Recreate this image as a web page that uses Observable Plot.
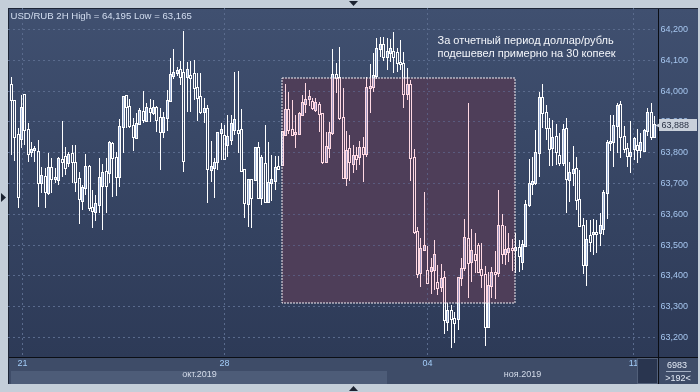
<!DOCTYPE html>
<html><head><meta charset="utf-8">
<script src="https://cdn.jsdelivr.net/npm/d3@7"></script>
<script src="https://cdn.jsdelivr.net/npm/@observablehq/plot@0.6"></script>
<style>html,body{margin:0;padding:0;background:#c4ced9;} #chart svg{display:block;}</style>
</head><body><div id="chart"></div>
<script>
// ---- data (USD/RUB, 2H candles) ----
const open = [
 64.018,63.966,63.855,63.843,63.985,63.873,63.801,63.807,63.801,63.700,
 63.719,63.668,63.749,63.713,63.710,63.775,63.784,63.765,63.794,63.765,
 63.713,63.642,63.684,63.751,63.619,63.606,63.629,63.690,63.735,63.732,
 63.827,63.781,63.719,63.882,63.982,63.947,63.885,63.846,63.892,63.931,
 63.901,63.940,63.927,63.944,63.911,63.866,63.911,63.966,64.047,64.057,
 64.067,64.057,64.044,64.047,64.054,64.008,63.979,63.931,63.940,63.742,
 63.749,63.768,63.862,63.853,63.823,63.840,63.872,63.869,63.872,63.742,
 63.632,63.710,63.710,63.814,63.651,63.762,63.638,63.700,63.706,63.752,
 63.758,63.856,63.937,63.872,63.859,63.859,63.921,63.956,63.973,63.963,
 63.937,63.953,63.924,63.768,63.814,63.862,64.051,64.041,63.911,63.716,
 63.810,63.762,63.788,63.784,63.814,63.794,64.008,64.012,64.047,64.135,
 64.148,64.109,64.122,64.125,64.122,64.090,64.086,63.989,64.018,63.781,
 63.541,63.408,63.482,63.414,63.414,63.418,63.375,63.362,63.392,63.249,
 63.284,63.258,63.258,63.392,63.424,63.518,63.443,63.466,63.495,63.418,
 63.401,63.232,63.366,63.408,63.408,63.560,63.469,63.476,63.486,63.484,
 63.489,63.443,63.495,63.629,63.697,63.700,63.797,63.976,63.927,63.875,
 63.814,63.849,63.788,63.765,63.875,63.710,63.732,63.745,63.645,63.560,
 63.434,63.528,63.534,63.538,63.538,63.551,63.667,63.830,63.833,63.885,
 63.953,63.849,63.810,63.788,63.810,63.820,63.807,63.804,63.869,63.927,
 63.849];
const high = [
 64.044,63.970,63.880,63.985,63.988,63.895,63.833,63.820,63.840,63.752,
 63.749,63.797,63.781,63.749,63.784,63.901,63.817,63.801,63.823,63.823,
 63.736,63.694,63.794,63.758,63.677,63.661,63.781,63.762,63.781,63.836,
 63.834,63.801,63.908,63.982,63.986,63.973,63.911,63.927,63.944,63.999,
 63.960,63.973,63.969,63.950,63.944,63.931,64.002,64.106,64.135,64.077,
 64.096,64.195,64.093,64.096,64.099,64.057,64.057,63.976,63.953,63.836,
 63.781,63.866,63.895,63.888,63.921,63.921,64.060,64.064,63.940,63.742,
 63.713,63.713,63.818,63.833,63.791,63.888,63.833,63.791,63.788,63.788,
 63.868,64.021,63.995,63.969,63.921,63.931,63.986,64.025,64.002,63.976,
 63.976,63.963,63.927,63.866,63.898,64.135,64.090,64.142,64.008,63.869,
 63.856,63.823,63.817,63.836,63.849,64.044,64.086,64.122,64.171,64.174,
 64.174,64.171,64.168,64.190,64.138,64.164,64.125,64.073,64.034,63.810,
 63.557,63.521,63.671,63.495,63.456,63.515,63.434,63.437,63.414,63.310,
 63.304,63.281,63.395,63.456,63.583,63.960,63.551,63.538,63.505,63.505,
 63.431,63.411,63.427,63.479,63.677,63.599,63.560,63.538,63.518,63.538,
 63.515,63.515,63.645,63.778,63.784,63.872,63.995,64.021,63.953,63.911,
 63.905,63.892,63.862,63.892,63.911,63.768,63.820,63.784,63.742,63.586,
 63.580,63.580,63.583,63.580,63.603,63.677,63.840,63.921,63.921,63.960,
 63.966,63.885,63.830,63.901,63.849,63.875,63.862,63.875,63.944,63.960,
 63.918];
const low = [
 63.790,63.770,63.619,63.815,63.825,63.768,63.784,63.768,63.622,63.668,
 63.619,63.662,63.668,63.700,63.694,63.719,63.726,63.752,63.700,63.671,
 63.567,63.612,63.661,63.609,63.555,63.577,63.603,63.547,63.603,63.700,
 63.655,63.658,63.687,63.797,63.879,63.879,63.804,63.843,63.888,63.895,
 63.898,63.898,63.921,63.866,63.742,63.846,63.869,63.963,64.038,64.047,
 64.018,63.736,63.931,63.931,63.969,63.901,63.924,63.895,63.635,63.703,
 63.651,63.742,63.775,63.775,63.784,63.823,63.856,63.797,63.736,63.586,
 63.557,63.554,63.705,63.649,63.629,63.635,63.635,63.642,63.677,63.743,
 63.755,63.852,63.859,63.852,63.814,63.856,63.918,63.927,63.950,63.937,
 63.931,63.866,63.762,63.765,63.781,63.856,63.992,63.905,63.713,63.690,
 63.706,63.732,63.742,63.758,63.703,63.784,63.927,63.995,64.038,64.109,
 64.096,64.067,64.093,64.057,64.060,64.067,63.944,63.969,63.706,63.535,
 63.392,63.362,63.478,63.372,63.340,63.353,63.336,63.346,63.210,63.219,
 63.165,63.181,63.223,63.366,63.414,63.327,63.379,63.408,63.408,63.359,
 63.171,63.228,63.327,63.323,63.395,63.437,63.434,63.443,63.414,63.408,
 63.411,63.418,63.492,63.622,63.661,63.694,63.719,63.879,63.840,63.755,
 63.755,63.758,63.755,63.755,63.603,63.638,63.690,63.612,63.556,63.405,
 63.366,63.476,63.466,63.473,63.495,63.531,63.583,63.804,63.752,63.797,
 63.781,63.797,63.752,63.732,63.775,63.765,63.781,63.801,63.853,63.840,
 63.846];
const close = [
 63.970,63.850,63.655,63.943,63.873,63.795,63.807,63.810,63.700,63.723,
 63.671,63.749,63.713,63.716,63.778,63.768,63.749,63.791,63.768,63.703,
 63.648,63.684,63.752,63.620,63.609,63.632,63.716,63.732,63.690,63.830,
 63.781,63.719,63.882,63.979,63.947,63.885,63.849,63.892,63.934,63.905,
 63.944,63.931,63.944,63.905,63.866,63.911,63.966,64.051,64.057,64.064,
 64.044,63.771,64.067,64.041,64.008,63.976,63.931,63.940,63.745,63.752,
 63.765,63.862,63.872,63.778,63.849,63.892,63.905,63.862,63.739,63.635,
 63.710,63.651,63.814,63.651,63.781,63.638,63.700,63.710,63.749,63.745,
 63.866,63.937,63.872,63.856,63.862,63.924,63.960,63.969,63.979,63.944,
 63.960,63.924,63.768,63.817,63.862,64.051,64.041,63.911,63.716,63.804,
 63.768,63.788,63.778,63.814,63.794,64.008,64.012,64.047,64.135,64.148,
 64.109,64.125,64.135,64.109,64.090,64.086,63.989,64.018,63.781,63.541,
 63.405,63.486,63.495,63.375,63.424,63.466,63.359,63.388,63.255,63.284,
 63.258,63.245,63.392,63.421,63.521,63.440,63.479,63.450,63.411,63.401,
 63.232,63.366,63.408,63.405,63.560,63.469,63.482,63.486,63.484,63.489,
 63.463,63.499,63.629,63.697,63.703,63.797,63.976,63.927,63.879,63.810,
 63.846,63.801,63.765,63.872,63.713,63.732,63.742,63.645,63.560,63.434,
 63.515,63.508,63.538,63.535,63.560,63.667,63.830,63.833,63.885,63.950,
 63.849,63.810,63.788,63.797,63.843,63.807,63.830,63.869,63.927,63.849,
 63.888];

const yTicks = [63.2, 63.3, 63.4, 63.5, 63.6, 63.7, 63.8, 63.9, 64.0, 64.1, 64.2];
const dateTickPos = [3.4, 63.07, 122.95, 183.9];
const dateTickLabels = ["21", "28", "04", "11"];
const monthLabels = ["окт.2019", "ноя.2019"];
const monthStart = [0, 111.1];
const monthEnd = [111.1, 191.19];
const noteBox = {x1: 80.2, x2: 149.0, y1: 63.31, y2: 64.04};
const noteLines = ["За отчетный период доллар/рубль", "подешевел примерно на 30 копеек"];
const noteX = 125.9;
const noteY = [64.164, 64.122];
const title = "USD/RUB 2H High = 64,195 Low = 63,165";
const barInfo = ["6983", ">192<"];

// ---- build ----
const fmt = d => d.toFixed(3).replace(".", ",");
const candles = open.map((o, i) => ({i, open: o, high: high[i], low: low[i], close: close[i]}));
const months = monthLabels.map((m, i) => ({label: m, x1: monthStart[i], x2: monthEnd[i], shade: i % 2 === 0}));
const box = [noteBox];
const last = candles[candles.length - 1];
const grid = "#5a6b8d";

const chart = Plot.plot({
  width: 700, height: 392,
  marginTop: 8, marginRight: 42, marginBottom: 35, marginLeft: 8,
  x: {domain: [-0.827, 191.19], round: true, axis: null},
  y: {domain: [63.1351, 64.2682], round: true, axis: null},
  style: {background: "transparent", fontFamily: "'Liberation Sans', Arial, sans-serif", overflow: "visible"},
  marks: [
    Plot.rect(months.filter(d => d.shade), {x1: "x1", x2: "x2", insetTop: 363, insetBottom: -27, fill: "#4d5c78"}),
    Plot.rect(box, {x1: "x1", x2: "x2", y1: "y1", y2: "y2", fill: "#4e4864"}),
    Plot.ruleY(yTicks, {y: d => d, stroke: grid, strokeDasharray: "2,3", ariaDescription: "crisp"}),
    Plot.ruleX(dateTickPos, {x: d => d, stroke: grid, strokeDasharray: "2,3", ariaDescription: "crisp"}),
    Plot.ruleX(candles, {x: "i", y1: "high", y2: d => Math.max(d.open, d.close), stroke: "#ffffff", ariaDescription: "crisp"}),
    Plot.ruleX(candles, {x: "i", y1: d => Math.min(d.open, d.close), y2: "low", stroke: "#ffffff", ariaDescription: "crisp"}),
    Plot.rect(candles, {x1: "i", x2: "i", y1: "open", y2: "close",
      insetLeft: -1, insetRight: -1, insetTop: -1, insetBottom: 0,
      fill: d => d.close > d.open ? "#9db2d8" : "none", stroke: "#ffffff", ariaDescription: "crisp"}),
    Plot.rect(box, {x1: "x1", x2: "x2", y1: "y1", y2: "y2", fill: "#ffd9e3", mixBlendMode: "multiply", ariaDescription: "overlay"}),
    Plot.rect(box, {x1: "x1", x2: "x2", y1: "y1", y2: "y2", fill: "none", stroke: "#f2eef4", strokeDasharray: "2,1"}),
    Plot.text([title], {frameAnchor: "top-left", dx: 2, dy: 7, textAnchor: "start", lineAnchor: "middle", fontSize: 9.6, fill: "#d3def0"}),
    Plot.text(noteLines, {x: () => noteX, y: (d, i) => noteY[i], text: d => d, textAnchor: "start", lineAnchor: "middle", fontSize: 11, fill: "#f4f6fb"}),
    Plot.text(yTicks, {y: d => d, text: fmt, frameAnchor: "right", dx: 2, textAnchor: "start", fontSize: 9, fill: "#a6c6ef"}),
    Plot.text(dateTickPos, {x: d => d, text: (d, i) => dateTickLabels[i], frameAnchor: "bottom", dy: 8, fontSize: 9, fill: "#a2ccf8"}),
    Plot.text(months, {x: d => (d.x1 + d.x2) / 2, text: "label", frameAnchor: "bottom", dy: 19.5, fontSize: 9, fill: "#d4dcea"}),
    Plot.rect([last], {y1: "close", y2: "close", insetLeft: 651, insetRight: -39, insetTop: -6, insetBottom: -6, fill: "#c9d0da"}),
    Plot.dot([last], {y: "close", frameAnchor: "right", dx: 1, symbol: "triangle", rotate: -90, r: 2.5, fill: "#c9d0da", stroke: "none"}),
    Plot.text([last], {y: "close", text: d => fmt(d.close), frameAnchor: "right", dx: 3, textAnchor: "start", fontSize: 9, fill: "#2a3244"})
  ]
});

// ---- terminal chrome ----
const svg = d3.select(chart);
svg.selectAll('[aria-description="overlay"]').style("mix-blend-mode", "multiply");
svg.selectAll('[aria-description="crisp"]').attr("shape-rendering", "crispEdges");
const back = svg.insert("g", ":first-child");
const defs = svg.insert("defs", ":first-child");
const grad = defs.append("linearGradient").attr("id", "bgGrad").attr("x1", 0).attr("y1", 0).attr("x2", 0).attr("y2", 1);
grad.append("stop").attr("offset", "0%").attr("stop-color", "#405070");
grad.append("stop").attr("offset", "100%").attr("stop-color", "#2d3a57");
back.append("rect").attr("x", 0).attr("y", 0).attr("width", 700).attr("height", 392).attr("fill", "#c4ced9");
back.append("rect").attr("x", 8).attr("y", 8).attr("width", 690).attr("height", 376).attr("fill", "#3e4c68");
back.append("rect").attr("x", 8).attr("y", 8).attr("width", 690).attr("height", 349).attr("fill", "url(#bgGrad)");
back.append("line").attr("x1", 8).attr("x2", 698).attr("y1", 357.5).attr("y2", 357.5).attr("stroke", "#0b0e15");
back.append("line").attr("x1", 658.5).attr("x2", 658.5).attr("y1", 8).attr("y2", 384).attr("stroke", "#0b0e15");
back.append("line").attr("x1", 8).attr("x2", 698).attr("y1", 8.5).attr("y2", 8.5).attr("stroke", "#1d2536");
back.append("line").attr("x1", 8.5).attr("x2", 8.5).attr("y1", 8).attr("y2", 384).attr("stroke", "#1d2536");

const front = svg.append("g");
front.append("rect").attr("x", 637.5).attr("y", 358.5).attr("width", 20).attr("height", 25).attr("fill", "#29354f").attr("stroke", "#52607a");
front.append("path").attr("d", "M349,1L358,1L353.5,6Z").attr("fill", "#1c2331");
front.append("path").attr("d", "M349,391L358,391L353.5,386Z").attr("fill", "#1c2331");
front.append("path").attr("d", "M1,193L1,202L6,197.5Z").attr("fill", "#1c2331");
front.append("text").attr("x", 677).attr("y", 368).attr("text-anchor", "middle").attr("font-size", 9).attr("fill", "#e4ebf6").text(barInfo[0]);
front.append("line").attr("x1", 666).attr("x2", 691).attr("y1", 371.5).attr("y2", 371.5).attr("stroke", "#a4b0c4");
front.append("text").attr("x", 678).attr("y", 381).attr("text-anchor", "middle").attr("font-size", 9).attr("fill", "#e4ebf6").text(barInfo[1]);

document.getElementById("chart").append(chart);
</script>
</body></html>
